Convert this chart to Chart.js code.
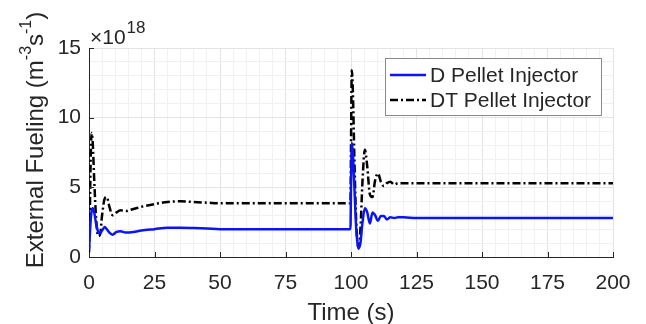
<!DOCTYPE html>
<html>
<head>
<meta charset="utf-8">
<script src="https://cdn.jsdelivr.net/npm/chart.js@4.4.0/dist/chart.umd.min.js"></script>
<style>
  html, body { margin: 0; padding: 0; background: #fff; }
  #wrap { width: 646px; height: 324px; }
</style>
</head>
<body>
<div id="wrap"><canvas id="myChart" width="646" height="324"></canvas></div>
<script>
// time samples (s)
var timeS = [0, 0.3, 0.7, 1.0, 1.4, 2, 2.7, 3.5, 4.2, 5, 6, 6.8, 7.8, 9, 10.5, 12, 14, 17, 20, 25, 30, 35, 40, 45, 50, 60, 70, 80, 90, 99.8,
    100.0, 100.3, 100.7, 101.3, 102, 102.8, 103.6, 104.4, 105.3, 106.2, 107.2, 108.2, 109.2, 110.3, 111.4, 112.5, 113.7, 115, 116.5, 118, 120,
    125, 130, 140, 160, 180, 200];
// external fueling, units of 1e18 m^-3 s^-1
var dPellet = [0.5, 1.5, 2.8, 3.3, 3.5, 3.2, 2.4, 1.8, 1.7, 1.9, 2.15, 2.0, 1.75, 1.6, 1.8, 1.85, 1.75, 1.8, 1.9, 2.0, 2.1, 2.1, 2.08, 2.05, 2.0, 2.0, 2.0, 2.0, 2.0, 2.0,
    5.0, 8.2, 7.5, 5.0, 2.0, 0.6, 1.0, 2.5, 3.5, 3.2, 2.4, 3.2, 3.0, 2.6, 2.95, 2.95, 2.7, 2.85, 2.8, 2.85, 2.85,
    2.8, 2.8, 2.8, 2.8, 2.8, 2.8];
var dtPellet = [0.3, 3.0, 7.5, 8.9, 8.3, 5.5, 2.8, 1.5, 1.6, 3.0, 4.2, 4.3, 3.6, 3.0, 3.2, 3.35, 3.3, 3.45, 3.6, 3.8, 3.95, 4.0, 3.95, 3.9, 3.85, 3.85, 3.85, 3.85, 3.85, 3.85,
    8.0, 13.4, 12.0, 7.0, 2.5, 0.7, 2.0, 5.5, 7.7, 6.5, 4.5, 4.3, 5.5, 6.0, 5.4, 5.1, 5.3, 5.4, 5.2, 5.3, 5.3,
    5.3, 5.3, 5.3, 5.3, 5.3, 5.3];
var seriesNames = ['D Pellet Injector', 'DT Pellet Injector'];
var exponentText = ['\u00d710', '18'];
// y title pieces: [text, superscript?]
var yTitleParts = [['External Fueling (m', false], ['-3', true], ['s', false], ['-1', true], [')', false]];

var fontFam = '"Liberation Sans", Arial, Helvetica, sans-serif';
var textCol = '#262626';

function toPoints(ys) {
    return timeS.map(function (t, i) { return { x: t, y: ys[i] }; });
}

// MATLAB-ish legend box, exponent label, y title and inward ticks
var extras = {
    id: 'extras',
    afterDraw: function (chart) {
        var ctx = chart.ctx;
        var xs = chart.scales.x, ys = chart.scales.y;
        ctx.save();
        // inward ticks
        ctx.strokeStyle = textCol;
        ctx.lineWidth = 1;
        for (var v = 0; v <= 200; v += 25) {
            var px = Math.round(xs.getPixelForValue(v)) + 0.5;
            ctx.beginPath();
            ctx.moveTo(px, ys.bottom);
            ctx.lineTo(px, ys.bottom - 5);
            ctx.stroke();
        }
        for (var w = 0; w <= 15; w += 5) {
            var py = Math.round(ys.getPixelForValue(w)) + 0.5;
            ctx.beginPath();
            ctx.moveTo(xs.left, py);
            ctx.lineTo(xs.left + 5, py);
            ctx.stroke();
        }
        // exponent
        ctx.fillStyle = textCol;
        ctx.textBaseline = 'alphabetic';
        ctx.textAlign = 'left';
        ctx.font = '21px ' + fontFam;
        ctx.fillText(exponentText[0], xs.left + 1, 44);
        var w0 = ctx.measureText(exponentText[0]).width;
        ctx.font = '17px ' + fontFam;
        ctx.fillText(exponentText[1], xs.left + 2 + w0, 33);

        // y title, rotated, with superscripts
        var total = 0;
        yTitleParts.forEach(function (p) {
            ctx.font = (p[1] ? '16px ' : '24px ') + fontFam;
            total += ctx.measureText(p[0]).width;
        });
        ctx.save();
        ctx.translate(43, 140 + total / 2);
        ctx.rotate(-Math.PI / 2);
        var cx = 0;
        yTitleParts.forEach(function (p) {
            ctx.font = (p[1] ? '16px ' : '24px ') + fontFam;
            ctx.fillText(p[0], cx, p[1] ? -12 : 0);
            cx += ctx.measureText(p[0]).width;
        });
        ctx.restore();

        // legend
        var bx = 385, by = 58, bw = 216, bh = 57;
        ctx.fillStyle = '#fff';
        ctx.fillRect(bx, by, bw, bh);
        ctx.strokeStyle = '#8a8a8a';
        ctx.lineWidth = 1;
        ctx.strokeRect(bx + 0.5, by + 0.5, bw, bh);
        chart.data.datasets.forEach(function (ds, i) {
            var ly = by + 17 + i * 25;
            ctx.strokeStyle = ds.borderColor;
            ctx.lineWidth = ds.borderWidth;
            ctx.setLineDash(ds.borderDash || []);
            ctx.beginPath();
            ctx.moveTo(bx + 5, ly);
            ctx.lineTo(bx + 41, ly);
            ctx.stroke();
            ctx.setLineDash([]);
            ctx.fillStyle = textCol;
            ctx.font = '21px ' + fontFam;
            ctx.textBaseline = 'middle';
            ctx.fillText(ds.label, bx + 45, ly + 1);
        });
        ctx.restore();
    }
};

var ctx = document.getElementById('myChart').getContext('2d');
var myChart = new Chart(ctx, {
    type: 'line',
    data: {
        datasets: [{
            label: seriesNames[0],
            data: toPoints(dPellet),
            borderColor: '#0a14f5',
            borderWidth: 2.5,
            pointRadius: 0,
            fill: false,
            cubicInterpolationMode: 'monotone'
        }, {
            label: seriesNames[1],
            data: toPoints(dtPellet),
            borderColor: '#000000',
            borderWidth: 2.5,
            borderDash: [8, 3, 2, 3],
            pointRadius: 0,
            fill: false,
            cubicInterpolationMode: 'monotone'
        }]
    },
    options: {
        responsive: false,
        animation: false,
        layout: { padding: { top: 48, right: 33, left: 0, bottom: 0 } },
        plugins: {
            legend: { display: false },
            tooltip: { enabled: false }
        },
        scales: {
            x: {
                type: 'linear',
                min: 0,
                max: 200,
                afterFit: function (s) { s.height = 67; },
                ticks: {
                    stepSize: 5,
                    autoSkip: false,
                    maxRotation: 0,
                    padding: 14,
                    color: textCol,
                    font: { size: 21, family: fontFam },
                    callback: function (v) { return v % 25 === 0 ? v : ''; }
                },
                grid: {
                    drawTicks: false,
                    color: function (c) { return c.tick && c.tick.value % 25 === 0 ? '#e3e3e3' : '#f1f1f1'; }
                },
                border: { color: textCol, width: 1 },
                title: {
                    display: true,
                    text: 'Time (s)',
                    color: textCol,
                    font: { size: 24, family: fontFam },
                    padding: { top: 0, bottom: -4 }
                }
            },
            y: {
                min: 0,
                max: 15,
                afterFit: function (s) { s.width = 89; },
                ticks: {
                    stepSize: 1,
                    autoSkip: false,
                    padding: 8,
                    color: textCol,
                    font: { size: 21, family: fontFam },
                    callback: function (v) { return v % 5 === 0 ? v : ''; }
                },
                grid: {
                    drawTicks: false,
                    color: function (c) { return c.tick && c.tick.value % 5 === 0 ? '#e3e3e3' : '#f1f1f1'; }
                },
                border: { color: textCol, width: 1 }
            }
        }
    },
    plugins: [extras]
});
</script>
</body>
</html>
